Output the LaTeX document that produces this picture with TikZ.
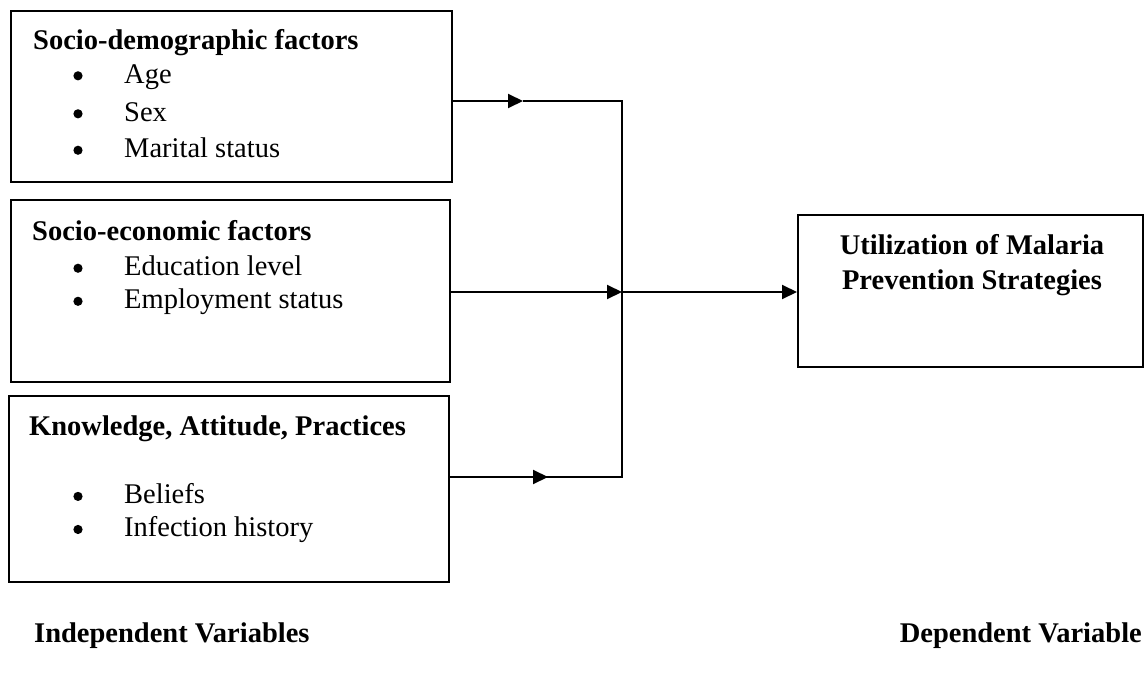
\documentclass[tikz,border=0pt]{standalone}
\usepackage{fontspec}
\setmainfont{Liberation Serif}
\usetikzlibrary{arrows.meta}
\begin{document}
\begin{tikzpicture}[x=1pt,y=-1pt,
  box/.style={draw,line width=1.6pt,inner sep=0pt,anchor=north west},
  head/.style={anchor=west,inner sep=0pt,font=\fontsize{28.5}{33}\selectfont\bfseries},
  item/.style={anchor=west,inner sep=0pt,font=\fontsize{28.5}{33}\selectfont},
  conn/.style={line width=2pt},
  arr/.style={conn,-{Triangle[length=15pt,width=14pt]}}]
\useasboundingbox (0,0) rectangle (1144,677);
% boxes
\node[box,minimum width=441pt,minimum height=171pt] (b1) at (10,10) {};
\node[box,minimum width=439pt,minimum height=182pt] (b2) at (10,199) {};
\node[box,minimum width=440pt,minimum height=186pt] (b3) at (8,395) {};
\node[box,minimum width=345pt,minimum height=152pt] (b4) at (797,214) {};
% texts
\node[head] (h1) at (33,43) {Socio-demographic factors};
\node[item] (i11) at (124,77) {Age};
\node[item] (i12) at (124,112) {Sex};
\node[item] (i13) at (124,148) {Marital status};
\node[head] (h2) at (32,231) {Socio-economic factors};
\node[item] (i21) at (124,266) {Education level};
\node[item] (i22) at (124,302) {Employment status};
\node[head] (h3) at (29,429) {Knowledge, Attitude, Practices};
\node[item] (i31) at (124,494) {Beliefs};
\node[item] (i32) at (124,530) {Infection history};
\node[font=\fontsize{28.5}{35}\selectfont\bfseries,align=center,inner sep=0pt] (h4) at (972,265) {Utilization of Malaria\\Prevention Strategies};
\node[anchor=west,inner sep=0pt,font=\fontsize{28.5}{33}\selectfont\bfseries] (iv) at (34,636) {Independent Variables};
\node[anchor=east,inner sep=0pt,font=\fontsize{28.5}{33}\selectfont\bfseries] (dv) at (1142,636) {Dependent Variable};
% bullets
\foreach \n in {i11,i12,i13,i21,i22,i31,i32}
  \fill ([xshift=-46pt,yshift=7.5pt]\n.base west) circle (4.6pt);
% connectors
\coordinate (j1) at (622,101);
\coordinate (j2) at (622,292);
\coordinate (j3) at (622,477);
\coordinate (m1) at (523,101);
\coordinate (m3) at (548,477);
\draw[arr] (b1.east |- j1) -- (m1);
\draw[conn] (m1) -- (j1) -- (j3) -- (b3.east |- j3);
\draw[arr] (b2.east |- j2) -- (j2);
\draw[arr] (j2) -- (b4.west |- j2);
\draw[arr] (b3.east |- j3) -- (m3);
\end{tikzpicture}
\end{document}
